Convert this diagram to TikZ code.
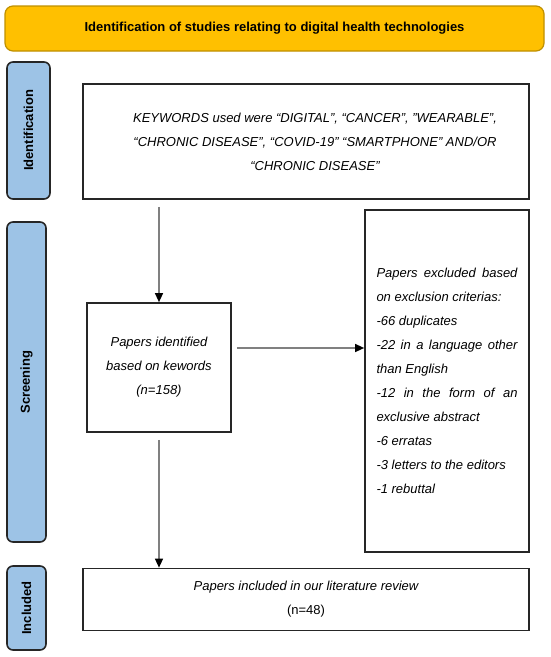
\documentclass[tikz,border=0pt]{standalone}
\usepackage{fontspec}
\setmainfont{Liberation Sans}
\usetikzlibrary{arrows.meta,positioning}
\definecolor{gold}{HTML}{FFC000}
\definecolor{golddark}{HTML}{BF9000}
\definecolor{sideblue}{HTML}{9DC3E6}
\definecolor{linegray}{HTML}{808080}
\begin{document}
\begin{tikzpicture}[
    x=1pt, y=-1pt,
    font=\fontsize{13}{24}\selectfont,
    titlebox/.style={draw=golddark, fill=gold, rounded corners=8pt, line width=1.2pt,
        minimum width=539pt, minimum height=45pt, font=\fontsize{13}{24}\selectfont\bfseries},
    sidebox/.style={draw=black!85, fill=sideblue, rounded corners=6pt, line width=1.6pt,
        rotate=90, inner sep=0pt, font=\fontsize{13}{24}\selectfont\bfseries},
    mainbox/.style={draw=black!85, line width=1.7pt, inner sep=0pt, font=\fontsize{13}{24}\selectfont\itshape},
    arrow/.style={draw=linegray, line width=1.3pt, -{Triangle[black,width=8pt,length=9pt]}}
]
\useasboundingbox (0,0) rectangle (550,657);

% Title
\node[titlebox] (title) at (274.5,28.5) {Identification of studies relating to digital health technologies};

% Phases
\node[sidebox, minimum width=137pt, minimum height=43pt] (ident) at (28.5,130.5) {Identification};
\node[sidebox, minimum width=320pt, minimum height=39pt] (screen) at (26.5,382) {Screening};
\node[sidebox, minimum width=84pt, minimum height=39pt] (incl) at (26.5,608) {Included};

% Boxes
\node[mainbox, minimum width=446pt, minimum height=115pt, align=center] (kw) at (306,141.5)
    {\hspace*{18pt}KEYWORDS used were “DIGITAL”, “CANCER”, ”WEARABLE”,\\
     \hspace*{18pt}“CHRONIC DISEASE”, “COVID-19” “SMARTPHONE” AND/OR\\
     \hspace*{18pt}“CHRONIC DISEASE”};
\node[mainbox, minimum width=144pt, minimum height=129pt, align=center] (papers) at (159,367.5)
    {Papers identified\\ based on kewords\\ (n=158)};
\node[mainbox, minimum width=164pt, minimum height=342pt, text width=141pt, align=justify] (excl) at (447,381)
    {Papers excluded based\linebreak on exclusion criterias:\newline
     -66 duplicates\newline
     -22 in a language other\linebreak than English\newline
     -12 in the form of an\linebreak exclusive abstract\newline
     -6 erratas\newline
     -3 letters to the editors\newline
     -1 rebuttal};
\node[mainbox, minimum width=446pt, minimum height=62pt, align=center] (result) at (306,599.5)
    {Papers included in our literature review\\ \upshape(n=48)};

% Connectors
\coordinate (side) at ([shift={(5pt,19.5pt)}]papers.east);
\draw[arrow] ([yshift=-7pt]kw.south -| papers.north) -- (papers.north);
\draw[arrow] (side) -- (side -| excl.west);
\draw[arrow] ([yshift=-7pt]papers.south) -- (papers.south |- result.north);
\end{tikzpicture}
\end{document}
